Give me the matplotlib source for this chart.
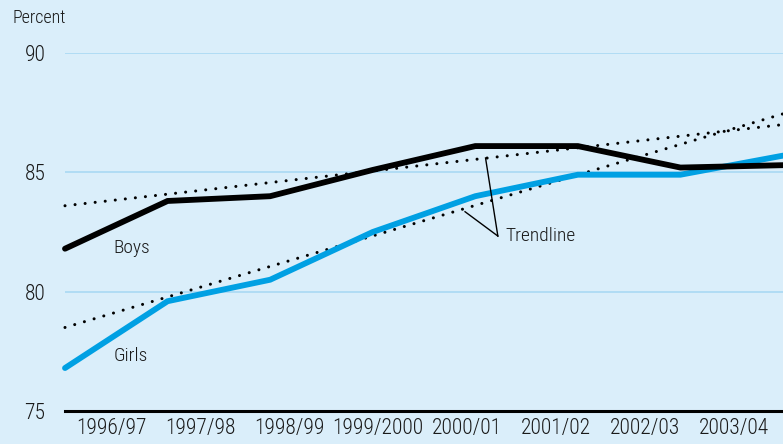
import matplotlib
matplotlib.use("Agg")
import matplotlib.pyplot as plt
import numpy as np

# School years and completion rates (percent)
years = ["1996/97", "1997/98", "1998/99", "1999/2000", "2000/01",
         "2001/02", "2002/03", "2003/04"]
boys = [81.8, 83.8, 84.0, 85.1, 86.1, 86.1, 85.2, 85.3]
girls = [76.8, 79.6, 80.5, 82.5, 84.0, 84.9, 84.9, 85.7]

# Trendline end values (first and last school year)
boys_trend = [83.6, 87.0]
girls_trend = [78.5, 87.45]

yticks = [75, 80, 85, 90]

plt.rcParams["font.family"] = ["Roboto Condensed", "DejaVu Sans"]
plt.rcParams["font.weight"] = "light"

BG = "#daeefa"
GRID = "#a9d9f3"
BLUE = "#00a0e3"
TXT = "#1a1a1a"
FS = 15.5
FS_NOTE = 14

W, H = 783, 444
fig = plt.figure(figsize=(W / 100, H / 100), dpi=100, facecolor=BG)
ax = fig.add_axes([65 / W, (H - 411) / H, (W - 65) / W, (411 - 53) / H])
ax.set_facecolor(BG)

x = np.arange(len(years))
ax.set_xlim(0, len(years) - 1)
ax.set_ylim(75, 90)

for y in yticks[1:]:
    ax.axhline(y, color=GRID, lw=1.2, zorder=1)

xt = [0, len(years) - 1]
ax.plot(xt, boys_trend, color="black", lw=2.2, linestyle=(0, (0.01, 3.3)),
        dash_capstyle="round", zorder=2, clip_on=False)
ax.plot(xt, girls_trend, color="black", lw=2.2, linestyle=(0, (0.01, 3.3)),
        dash_capstyle="round", zorder=2, clip_on=False)

ax.plot(x, girls, color=BLUE, lw=4.2, solid_capstyle="round",
        solid_joinstyle="miter", zorder=3, clip_on=False)
ax.plot(x, boys, color="black", lw=4.2, solid_capstyle="round",
        solid_joinstyle="miter", zorder=4, clip_on=False)

for s in ["top", "right", "left"]:
    ax.spines[s].set_visible(False)
ax.spines["bottom"].set_color("black")
ax.spines["bottom"].set_linewidth(2.2)
ax.spines["bottom"].set_zorder(5)

ax.set_yticks(yticks)
ax.set_yticklabels([str(v) for v in yticks], fontsize=FS, color=TXT)
ax.tick_params(axis="y", length=0, pad=14)

# Year labels sit in the middle of each year's span
ax.set_xticks(np.linspace(0.45, 6.52, len(years)))
ax.set_xticklabels(years, fontsize=FS, color=TXT)
ax.tick_params(axis="x", length=0, pad=5)

fig.text(12 / W, 1 - 18 / H, "Percent", fontsize=13, color=TXT,
         ha="left", va="center")

ax.text(0.47, 81.85, "Boys", fontsize=FS_NOTE, color=TXT, ha="left", va="center")
ax.text(0.47, 77.3, "Girls", fontsize=FS_NOTE, color=TXT, ha="left", va="center")

# Trendline callout
tip = (4.22, 82.33)
ax.text(4.29, 82.33, "Trendline", fontsize=FS_NOTE, color=TXT, ha="left", va="center")
ax.plot([tip[0], 4.1], [tip[1], 85.6], color="black", lw=1.0, zorder=6)
ax.plot([tip[0], 3.9], [tip[1], 83.35], color="black", lw=1.0, zorder=6)

fig.savefig("out.png", dpi=100, facecolor=BG)
